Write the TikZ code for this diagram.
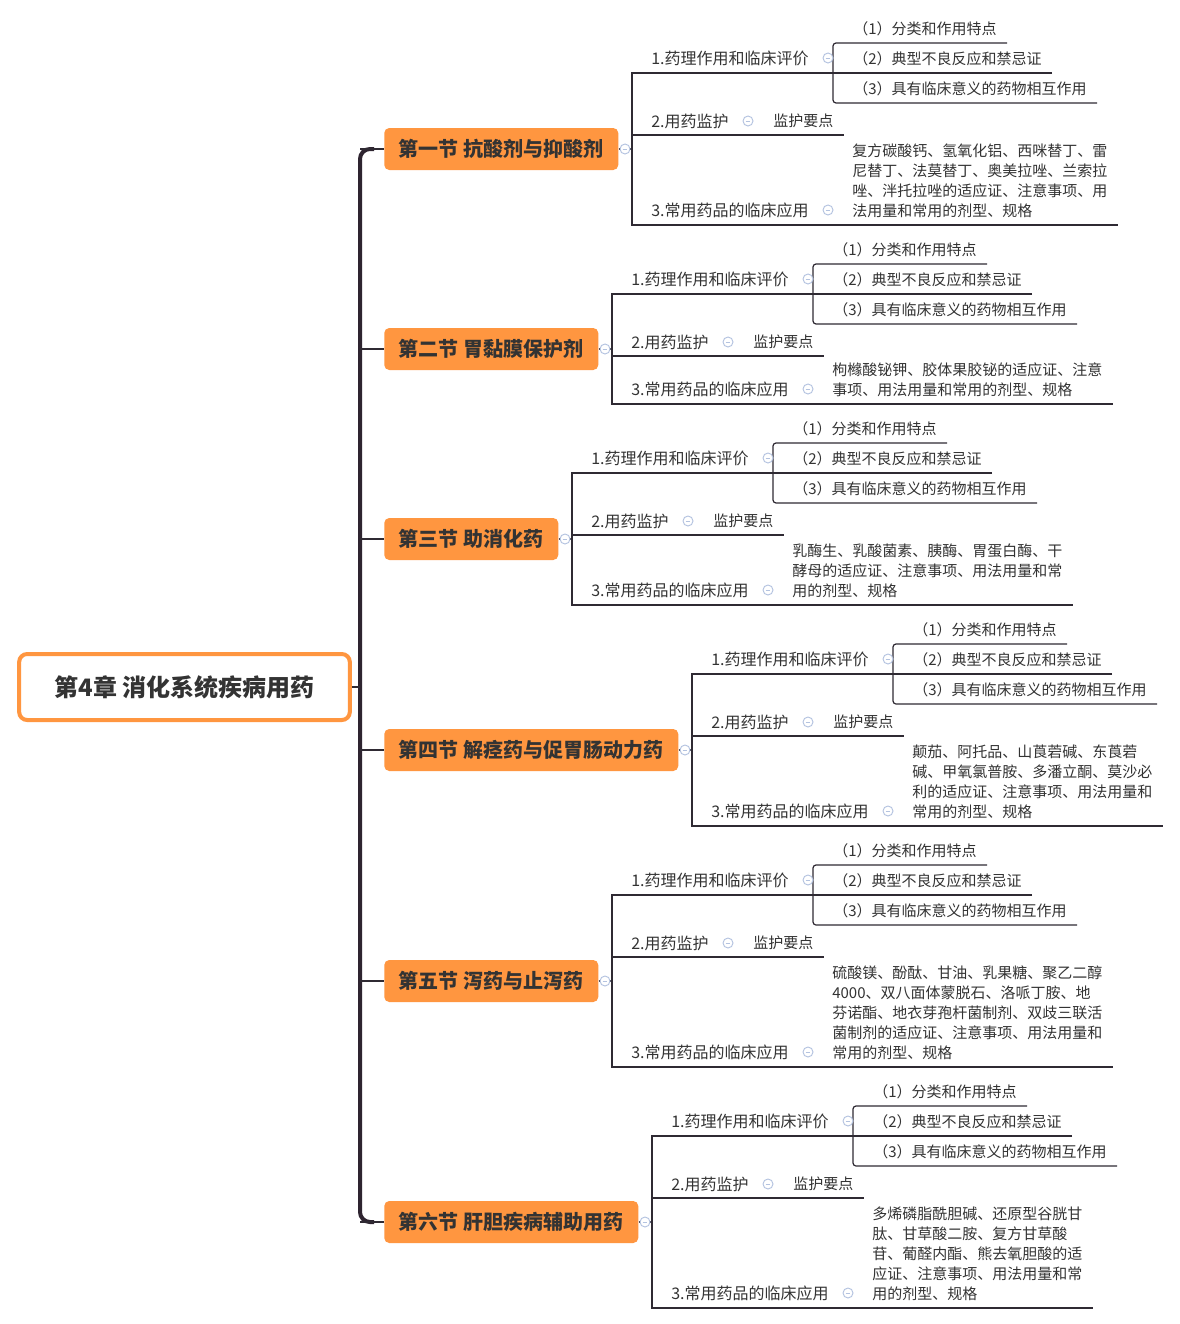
\documentclass[tikz,border=0pt]{standalone}
\usepackage{fontspec}
\setmainfont{Noto Sans CJK SC}
\definecolor{orng}{HTML}{FF9640}
\definecolor{ink}{HTML}{333333}
\definecolor{linec}{HTML}{2F2A33}
\definecolor{trunkc}{HTML}{2E2430}
\definecolor{minc}{HTML}{B4C3E0}
\tikzset{
 secbox/.style={fill=orng, rounded corners=3.75pt, minimum height=31.5pt, inner xsep=0pt, anchor=west, font=\fontsize{15}{18}\selectfont\bfseries, text=ink},
 rootbox/.style={draw=orng, line width=3pt, fill=white, rounded corners=6pt, minimum width=248pt, minimum height=49.5pt, font=\fontsize{18}{21}\selectfont\bfseries, text=ink},
 lvtwo/.style={anchor=west, inner sep=0pt, font=\fontsize{12}{14}\selectfont, text=ink},
 lvthree/.style={anchor=west, inner sep=0pt, font=\fontsize{11.25}{15}\selectfont, text=ink},
 bodytxt/.style={anchor=base west, inner sep=0pt, align=left, font=\fontsize{11.25}{15}\selectfont, text=ink},
 fold/.style={circle, draw=minc, line width=0.7pt, fill=white, minimum size=7.5pt, inner sep=0pt,
   path picture={\draw[minc, line width=0.6pt] ([xshift=-1.8pt]path picture bounding box.center) -- ([xshift=1.8pt]path picture bounding box.center);}},
 thin/.style={draw=linec, line width=0.9pt},
 trunk/.style={draw=trunkc, line width=3pt},
}
\newcommand{\mmsec}[8]{%
 \pgfmathsetmacro{\mmcy}{(#3+#5)/2}%
 \pgfmathsetmacro{\mmw}{(#2-398)*0.75}%
 \node[secbox, minimum width=\mmw pt] (sec#1) at (384,\mmcy) {#7};
 \coordinate (jn#1) at (#2,\mmcy);
 \coordinate (tr#1) at (360,\mmcy);
 \draw[thin] (tr#1) -- (sec#1.west);
 \draw[thin] (sec#1.east) -- (jn#1);
 \coordinate (ta#1) at (#2,#3);
 \coordinate (tc#1) at (#2,#5);
 \draw[thin] ({#2+420},#3) -- (ta#1) -- (tc#1) -- (#6,#5);
 \draw[thin] (#2,#4) -- ({#2+212},#4);
 \draw[thin, rounded corners=2.25pt] ({#2+375},{#3-30}) -- ({#2+201},{#3-30}) -- ({#2+201},{#3+30}) -- ({#2+465},{#3+30});
 \node[fold] (fs#1) at ({#2-7},\mmcy) {};
 \node[lvtwo] (ia#1) at ({#2+19},{#3-15}) {1.药理作用和临床评价};
 \node[fold] (fa#1) at ({#2+196},{#3-15}) {};
 \node[lvthree] (sa#1) at ({#2+221},{#3-44}) {（1）分类和作用特点};
 \node[lvthree] (sb#1) at ({#2+221},{#3-14}) {（2）典型不良反应和禁忌证};
 \node[lvthree] (sc#1) at ({#2+221},{#3+16}) {（3）具有临床意义的药物相互作用};
 \node[lvtwo] (ib#1) at ({#2+19},{#4-14}) {2.用药监护};
 \node[fold] (fb#1) at ({#2+116},{#4-14}) {};
 \node[lvthree] (mb#1) at ({#2+141},{#4-14}) {监护要点};
 \node[lvtwo] (ic#1) at ({#2+19},{#5-15}) {3.常用药品的临床应用};
 \node[fold] (fc#1) at ({#2+196},{#5-15}) {};
 \node[bodytxt] (bc#1) at ({#2+220},{#5-8.4}) {#8};
}
\begin{document}
\begin{tikzpicture}[x=0.75pt,y=-0.75pt]
\fill[white] (0,0) rectangle (1180,1324);
\useasboundingbox (0,0) rectangle (1180,1324);
\draw[trunk, rounded corners=7.5pt] (374,149) -- (360,149) -- (360,1222) -- (374,1222);
\node[rootbox] (root) at (184.5,687) {第4章 消化系统疾病用药};
\coordinate (trroot) at (360,687);
\draw[thin] (root.east) -- (trroot);
\mmsec{1}{632}{73}{135}{225}{1118}{第一节 抗酸剂与抑酸剂}{复方碳酸钙、氢氧化铝、西咪替丁、雷\\尼替丁、法莫替丁、奥美拉唑、兰索拉\\唑、泮托拉唑的适应证、注意事项、用\\法用量和常用的剂型、规格}
\mmsec{2}{612}{294}{356}{404}{1113}{第二节 胃黏膜保护剂}{枸橼酸铋钾、胶体果胶铋的适应证、注意\\事项、用法用量和常用的剂型、规格}
\mmsec{3}{572}{473}{535}{605}{1073}{第三节 助消化药}{乳酶生、乳酸菌素、胰酶、胃蛋白酶、干\\酵母的适应证、注意事项、用法用量和常\\用的剂型、规格}
\mmsec{4}{692}{674}{736}{826}{1163}{第四节 解痉药与促胃肠动力药}{颠茄、阿托品、山莨菪碱、东莨菪\\碱、甲氧氯普胺、多潘立酮、莫沙必\\利的适应证、注意事项、用法用量和\\常用的剂型、规格}
\mmsec{5}{612}{895}{957}{1067}{1113}{第五节 泻药与止泻药}{硫酸镁、酚酞、甘油、乳果糖、聚乙二醇\\4000、双八面体蒙脱石、洛哌丁胺、地\\芬诺酯、地衣芽孢杆菌制剂、双歧三联活\\菌制剂的适应证、注意事项、用法用量和\\常用的剂型、规格}
\mmsec{6}{652}{1136}{1198}{1308}{1093}{第六节 肝胆疾病辅助用药}{多烯磷脂酰胆碱、还原型谷胱甘\\肽、甘草酸二胺、复方甘草酸\\苷、葡醛内酯、熊去氧胆酸的适\\应证、注意事项、用法用量和常\\用的剂型、规格}
\end{tikzpicture}
\end{document}
